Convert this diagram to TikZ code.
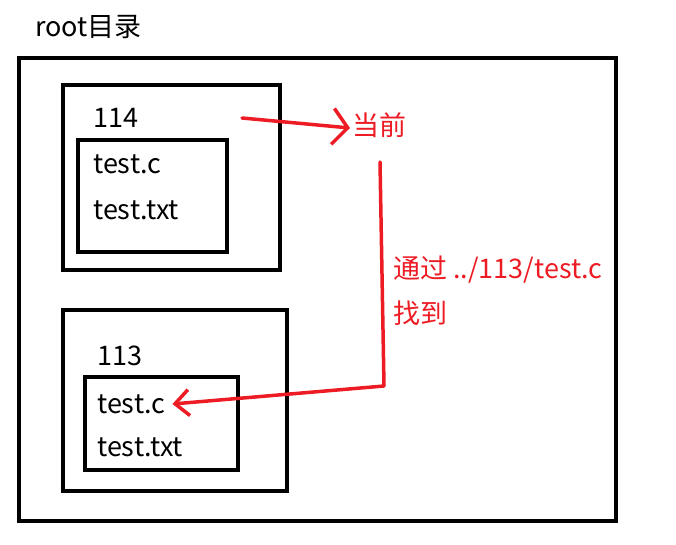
\documentclass[tikz,border=0pt]{standalone}
\usepackage{fontspec}
\setmainfont{Noto Sans CJK SC}
\usetikzlibrary{arrows.meta}
\definecolor{penred}{RGB}{237,28,36}
\begin{document}
\begin{tikzpicture}[x=1pt,y=-1pt,
    box/.style={draw,line width=4pt},
    lbl/.style={anchor=west,inner sep=0pt,font=\fontsize{27}{31}\selectfont},
    redlbl/.style={lbl,text=penred},
    pen/.style={draw=penred,line width=3.5pt,line cap=round,line join=round}]
    \useasboundingbox (0,0) rectangle (676,545);
    \node[lbl] (root) at (35,27) {root目录};
    \draw[box] (19,58) rectangle (616,521);
    % folder 114
    \draw[box] (63,85) rectangle (280,270);
    \draw[box] (78,140) rectangle (227,252);
    \node[lbl] (n114) at (93,118) {114};
    \node[lbl] (c114) at (93,164) {test.c};
    \node[lbl] (t114) at (93,210) {test.txt};
    % folder 113
    \draw[box] (63,310) rectangle (287,491);
    \draw[box] (85,377) rectangle (238,470);
    \node[lbl] (n113) at (97,356) {113};
    \node[lbl] (c113) at (97,404) {test.c};
    \node[lbl] (t113) at (97,447) {test.txt};
    % red notes
    \node[redlbl] (now) at (352,125) {当前};
    \node[redlbl] (via) at (393,270) {通过 ../113/test.c};
    \node[redlbl] (found) at (393,313) {找到};
    \coordinate (from114) at (242,118);
    \coordinate (down) at (380,162);
    \coordinate (turn) at (384,386);
    \draw[pen,-{Straight Barb[length=15pt,width=36pt,line width=3.5pt]}] (from114) -- ([xshift=-2pt,yshift=-3pt]now.west);
    \draw[pen,-{Straight Barb[length=14pt,width=26pt,line width=3.5pt]}] (down) -- (turn) -- ([xshift=7pt]c113.east);
\end{tikzpicture}
\end{document}
